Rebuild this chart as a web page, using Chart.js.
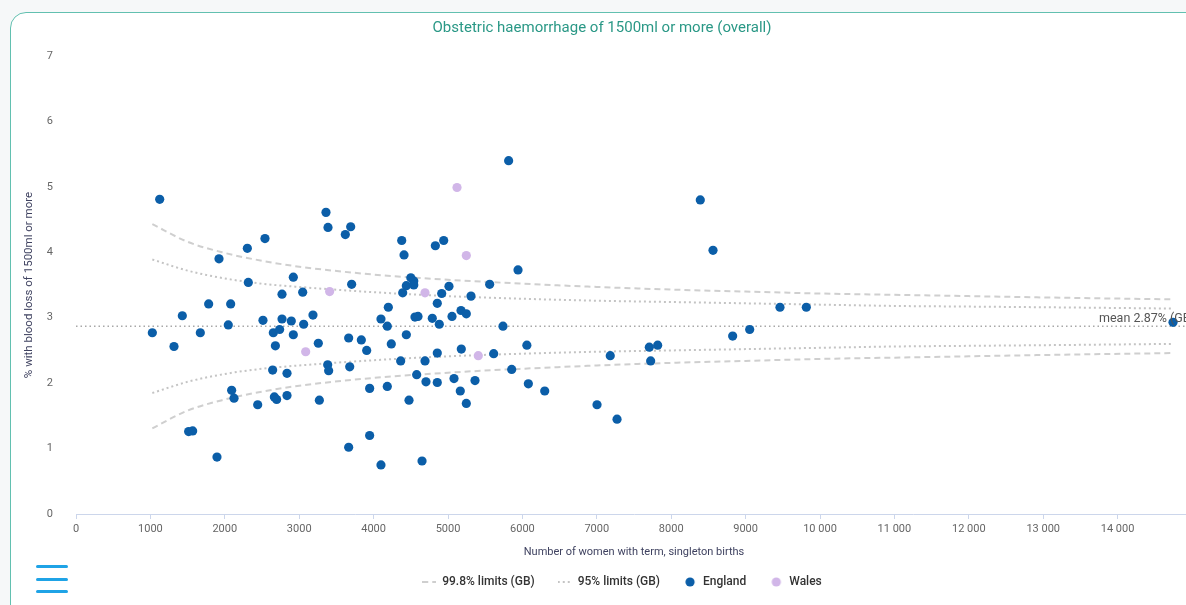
<!DOCTYPE html>
<html>
<head>
<meta charset="utf-8">
<script src="https://cdn.jsdelivr.net/npm/chart.js@4"></script>
<style>
  html, body { margin: 0; padding: 0; width: 1186px; height: 605px; overflow: hidden; background: #f6f8f9; }
  #card { position: absolute; left: 10px; top: 12px; width: 1200px; height: 650px; border: 1.5px solid #62c0b0; border-radius: 16px; background: #fff; }
  #wrap { position: absolute; left: 12px; top: 14px; width: 1191px; height: 600px; }
  .bar { position: absolute; left: 36px; width: 32px; height: 3px; border-radius: 2px; background: #1fa3e6; }
</style>
</head>
<body>
<div id="card"></div>
<div id="wrap"><canvas id="chart"></canvas></div>
<div class="bar" style="top:565px"></div>
<div class="bar" style="top:578px"></div>
<div class="bar" style="top:590px"></div>
<script>
// ---------------- DATA ----------------
const englandN = [1125, 3360, 3387, 2540, 2303, 1922, 2316, 2921, 2769, 3047, 1783, 2079, 1429, 3185, 2513, 2769, 2894, 2047, 3060, 1026,
  1671, 2652, 2737, 2921, 1317, 2680, 3257, 2643, 2836, 3383, 3396, 2092, 2124, 2442, 2666, 2697, 2836, 3271, 1514, 1568,
  1895, 5815, 3692, 3620, 4378, 4409, 4830, 4942, 5941, 3705, 4500, 4540, 4440, 4540, 4391, 4915, 5013, 5560, 5309, 4856,
  4198, 4099, 4184, 4556, 4597, 4789, 4883, 5054, 5175, 5246, 5739, 6060, 3665, 3835, 3907, 4238, 4440, 4856, 5179, 5614,
  4364, 4691, 3679, 5856, 4579, 5081, 5363, 4704, 4856, 6080, 3947, 4184, 5165, 4476, 5246, 3947, 3665, 4099, 4651, 8391,
  8562, 6300, 7181, 7706, 7818, 7724, 7003, 7272, 8826, 9055, 9462, 9816, 14745];
const englandPct = [4.81, 4.61, 4.38, 4.21, 4.06, 3.90, 3.54, 3.62, 3.36, 3.39, 3.21, 3.21, 3.03, 3.04, 2.96, 2.98, 2.95, 2.89, 2.90, 2.77,
  2.77, 2.77, 2.82, 2.74, 2.56, 2.57, 2.61, 2.20, 2.15, 2.28, 2.19, 1.89, 1.77, 1.67, 1.79, 1.75, 1.81, 1.74, 1.26, 1.27,
  0.87, 5.40, 4.39, 4.27, 4.18, 3.96, 4.10, 4.18, 3.73, 3.51, 3.61, 3.56, 3.49, 3.50, 3.38, 3.37, 3.48, 3.51, 3.33, 3.22,
  3.16, 2.98, 2.87, 3.01, 3.02, 2.99, 2.90, 3.02, 3.11, 3.06, 2.87, 2.58, 2.69, 2.66, 2.50, 2.60, 2.74, 2.46, 2.52, 2.45,
  2.34, 2.34, 2.25, 2.21, 2.13, 2.07, 2.04, 2.02, 2.01, 1.99, 1.92, 1.95, 1.88, 1.74, 1.69, 1.20, 1.02, 0.75, 0.81, 4.80,
  4.03, 1.88, 2.42, 2.55, 2.58, 2.34, 1.67, 1.45, 2.72, 2.82, 3.16, 3.16, 2.93];

const walesN = [3087, 3409, 5121, 5246, 4691, 5407];
const walesPct = [2.48, 3.40, 4.99, 3.95, 3.38, 2.42];

// funnel limits
const limitN =   [1026, 1500, 2000, 2500, 3000, 4000, 5000, 6000, 7000, 8000, 9000, 10000, 11000, 12000, 13000, 14745];
const upper998 = [4.43, 4.16, 3.99, 3.87, 3.78, 3.66, 3.58, 3.52, 3.47, 3.43, 3.40, 3.37, 3.35, 3.33, 3.31, 3.28];
const upper95 =  [3.89, 3.72, 3.60, 3.52, 3.47, 3.39, 3.33, 3.29, 3.26, 3.24, 3.22, 3.20, 3.18, 3.17, 3.16, 3.14];
const lower95 =  [1.85, 2.02, 2.14, 2.22, 2.27, 2.35, 2.41, 2.45, 2.48, 2.50, 2.52, 2.54, 2.56, 2.57, 2.58, 2.60];
const lower998 = [1.31, 1.58, 1.75, 1.87, 1.96, 2.08, 2.16, 2.22, 2.27, 2.31, 2.34, 2.37, 2.39, 2.41, 2.43, 2.46];

const meanN = [0, 15000];
const meanPct = [2.87, 2.87];
const meanLabel = "mean 2.87% (GB)";

const xTicks = [0, 1000, 2000, 3000, 4000, 5000, 6000, 7000, 8000, 9000, 10000, 11000, 12000, 13000, 14000];
const yTicks = [0, 1, 2, 3, 4, 5, 6, 7];

// ---------------- HELPERS ----------------
const toPoints = (xs, ys) => xs.map((x, i) => ({ x: x, y: ys[i] }));

function fmtNum(v) {
  if (v >= 10000) return String(v).replace(/\B(?=(\d{3})+(?!\d))/g, " ");
  return String(v);
}

const FONT = "Roboto, 'Noto Sans', sans-serif";

// small legend symbols
function lineSymbol(color, dash) {
  const c = document.createElement("canvas");
  c.width = 14; c.height = 4;
  const g = c.getContext("2d");
  g.strokeStyle = color;
  g.lineWidth = 2;
  g.setLineDash(dash);
  g.beginPath(); g.moveTo(0, 2); g.lineTo(14, 2); g.stroke();
  return c;
}
function dotSymbol(color) {
  const c = document.createElement("canvas");
  c.width = 14; c.height = 10;
  const g = c.getContext("2d");
  g.fillStyle = color;
  g.beginPath(); g.arc(7, 5, 4.6, 0, Math.PI * 2); g.fill();
  return c;
}

function limitLine(label, ys, dash, color, hidden) {
  return {
    type: "line",
    label: label,
    data: toPoints(limitN, ys),
    borderColor: color,
    backgroundColor: color,
    borderWidth: 2,
    borderDash: dash,
    pointRadius: 0,
    cubicInterpolationMode: "monotone",
    fill: false,
    order: 5,
    legendHide: hidden,
    legendSymbol: lineSymbol(color, dash)
  };
}

// mean label on the right of the plot
const meanLabelPlugin = {
  id: "meanLabel",
  afterLayout(chart) {
    // nudge legend to sit where the original one does
    chart.legend.left += 20;
    chart.legend.right += 20;
  },
  afterDatasetsDraw(chart) {
    const { ctx, chartArea, scales } = chart;
    const y = scales.y.getPixelForValue(meanPct[0]);
    ctx.save();
    ctx.font = "12.5px " + FONT;
    ctx.fillStyle = "#555";
    ctx.textAlign = "left";
    ctx.textBaseline = "bottom";
    ctx.fillText(meanLabel, chartArea.right - 93, y - 1);
    ctx.restore();
  }
};

// ---------------- CHART ----------------
new Chart(document.getElementById("chart"), {
  type: "scatter",
  data: {
    datasets: [
      limitLine("99.8% limits (GB)", upper998, [6, 4], "#cfcfcf", false),
      limitLine("99.8% lower", lower998, [6, 4], "#cfcfcf", true),
      limitLine("95% limits (GB)", upper95, [2, 3], "#c4c4c4", false),
      limitLine("95% lower", lower95, [2, 3], "#c4c4c4", true),
      {
        type: "line",
        label: "mean",
        data: toPoints(meanN, meanPct),
        borderColor: "#a8a8a8",
        borderWidth: 1.5,
        borderDash: [1.5, 3],
        pointRadius: 0,
        order: 6,
        legendHide: true
      },
      {
        label: "England",
        data: toPoints(englandN, englandPct),
        backgroundColor: "#0b5ea8",
        borderWidth: 0,
        pointRadius: 4.6,
        order: 1,
        legendSymbol: dotSymbol("#0b5ea8")
      },
      {
        label: "Wales",
        data: toPoints(walesN, walesPct),
        backgroundColor: "#d1b6e8",
        borderWidth: 0,
        pointRadius: 4.6,
        order: 2,
        legendSymbol: dotSymbol("#d1b6e8")
      }
    ]
  },
  options: {
    responsive: true,
    maintainAspectRatio: false,
    animation: false,
    layout: { padding: { left: 0, right: 11, top: 0, bottom: 16 } },
    plugins: {
      tooltip: { enabled: false },
      title: {
        display: true,
        text: "Obstetric haemorrhage of 1500ml or more (overall)",
        color: "#2a9886",
        font: { family: FONT, size: 15, weight: "normal" },
        padding: { top: 5, bottom: 19 }
      },
      legend: {
        position: "bottom",
        labels: {
          usePointStyle: true,
          pointStyleWidth: 14,
          boxHeight: 10,
          padding: 23,
          color: "#333",
          font: { family: FONT, size: 12, weight: "500" },
          filter: (item, data) => !data.datasets[item.datasetIndex].legendHide,
          sort: (a, b) => a.datasetIndex - b.datasetIndex,
          generateLabels(chart) {
            const items = Chart.defaults.plugins.legend.labels.generateLabels(chart);
            items.forEach(it => {
              const ds = chart.data.datasets[it.datasetIndex];
              if (ds.legendSymbol) it.pointStyle = ds.legendSymbol;
            });
            return items;
          }
        }
      }
    },
    scales: {
      x: {
        type: "linear",
        min: 0,
        max: 15000,
        afterBuildTicks: (s) => { s.ticks = xTicks.map(v => ({ value: v })); },
        afterFit: (s) => { s.height = 39; },
        grid: { drawOnChartArea: false, drawTicks: true, tickLength: 5, color: "#ccd6eb" },
        border: { display: true, color: "#ccd6eb", width: 1 },
        ticks: {
          color: "#666",
          font: { family: FONT, size: 11 },
          padding: 4,
          maxRotation: 0,
          autoSkip: false,
          callback: (v) => fmtNum(v)
        },
        title: {
          display: true,
          text: "Number of women with term, singleton births",
          color: "#3f4260",
          font: { family: FONT, size: 11 },
          padding: { top: 0, bottom: -6 }
        }
      },
      y: {
        min: 0,
        max: 7,
        afterBuildTicks: (s) => { s.ticks = yTicks.map(v => ({ value: v })); },
        afterFit: (s) => { s.width = 64; },
        grid: { display: false },
        border: { display: false },
        ticks: {
          color: "#666",
          font: { family: FONT, size: 11 },
          padding: 15
        },
        title: {
          display: true,
          text: "% with blood loss of 1500ml or more",
          color: "#3f4260",
          font: { family: FONT, size: 11.5 },
          padding: { top: 10, bottom: 0 }
        }
      }
    }
  },
  plugins: [meanLabelPlugin]
});
</script>
</body>
</html>
